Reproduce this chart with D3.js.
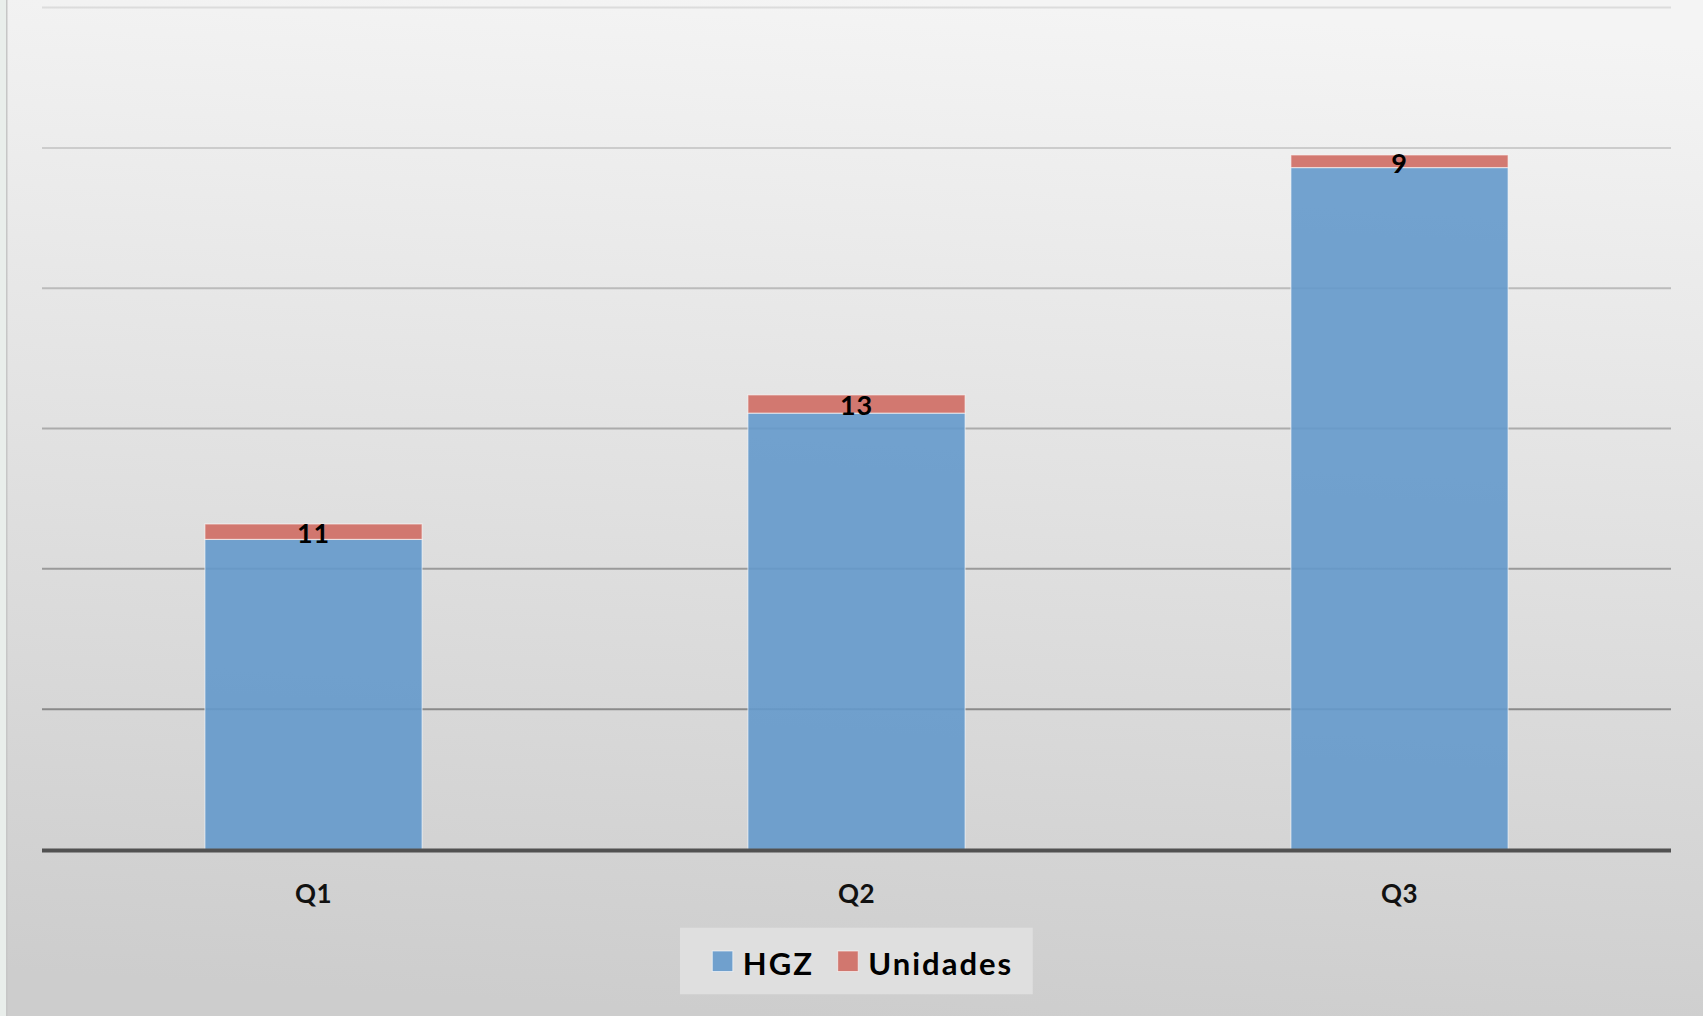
<!DOCTYPE html>
<html>
<head>
<meta charset="utf-8">
<script src="https://cdn.jsdelivr.net/npm/d3@7"></script>
<style>
  html, body { margin: 0; padding: 0; overflow: hidden; }
  body { font-family: Lato, "Open Sans", sans-serif; }
</style>
</head>
<body>
<script>
// chart data
var categories = ["Q1", "Q2", "Q3"];
var seriesNames = ["HGZ", "Unidades"];
var hgz = [221, 311, 486];
var unidades = [11, 13, 9];
var yTicks = [0, 100, 200, 300, 400, 500, 600];

var w = 1703;
var h = 1016;
var margin = {left: 42, right: 32, top: 7.6, bottom: 166.5};

var svg = d3.select("body")
  .append("svg")
  .attr("width", w)
  .attr("height", h);

// background gradient
var defs = svg.append("defs");
var grad = defs.append("linearGradient")
  .attr("id", "bg")
  .attr("x1", "0.55").attr("y1", "0")
  .attr("x2", "0.45").attr("y2", "1");
grad.append("stop").attr("offset", "0").attr("stop-color", "#f4f4f4");
grad.append("stop").attr("offset", "1").attr("stop-color", "#cdcdcd");

svg.append("rect")
  .attr("width", w).attr("height", h)
  .attr("fill", "url(#bg)");

// left edge strip
svg.append("rect")
  .attr("x", 0).attr("y", 0)
  .attr("width", 6).attr("height", h)
  .attr("fill", "#e9eeeb");
svg.append("rect")
  .attr("x", 6).attr("y", 0)
  .attr("width", 1.5).attr("height", h)
  .attr("fill", "#c6c6c6");

var x = d3.scaleBand()
  .domain(categories)
  .range([margin.left, w - margin.right])
  .paddingInner(0.6)
  .paddingOuter(0.3);

var y = d3.scaleLinear()
  .domain([0, 600])
  .range([h - margin.bottom, margin.top]);

var gridColor = d3.interpolateRgb("#dcdcdc", "#8a8a8a");

// gridlines
svg.append("g")
  .selectAll("line")
  .data(yTicks.filter(function (d) { return d > 0; }))
  .enter()
  .append("line")
  .attr("x1", margin.left)
  .attr("x2", w - margin.right)
  .attr("y1", function (d) { return y(d); })
  .attr("y2", function (d) { return y(d); })
  .style("stroke", function (d) { return gridColor((600 - d) / 500); })
  .style("stroke-width", 2);

// stacked data
var rows = categories.map(function (c, i) {
  return {cat: c, HGZ: hgz[i], Unidades: unidades[i]};
});
var stack = d3.stack().keys(seriesNames)(rows);
var colors = {HGZ: "#6499cb", Unidades: "#cf6b63"};

var layers = svg.append("g")
  .selectAll("g")
  .data(stack)
  .enter()
  .append("g")
  .style("fill", function (d) { return colors[d.key]; });

layers.selectAll("rect")
  .data(function (d) { return d; })
  .enter()
  .append("rect")
  .attr("x", function (d) { return x(d.data.cat); })
  .attr("width", x.bandwidth())
  .attr("y", function (d) { return y(d[1]); })
  .attr("height", function (d) { return y(d[0]) - y(d[1]); })
  .style("fill-opacity", 0.9)
  .style("stroke", "rgba(255,255,255,0.55)")
  .style("stroke-width", 1.2);

// baseline
svg.append("line")
  .attr("x1", margin.left)
  .attr("x2", w - margin.right)
  .attr("y1", y(0) + 1)
  .attr("y2", y(0) + 1)
  .style("stroke", "#515151")
  .style("stroke-width", 4);

// data labels for Unidades
var unidadesLayer = stack[1];
svg.append("g")
  .selectAll("text")
  .data(unidadesLayer)
  .enter()
  .append("text")
  .attr("x", function (d) { return x(d.data.cat) + x.bandwidth() / 2; })
  .attr("y", function (d) { return (y(d[0]) + y(d[1])) / 2 + 11.5; })
  .attr("text-anchor", "middle")
  .style("font-size", "27px")
  .style("font-weight", "bold")
  .style("letter-spacing", "0.8px")
  .style("fill", "#000")
  .text(function (d) { return d.data.Unidades; });

// x axis labels
var xAxis = d3.axisBottom(x).tickSize(0).tickPadding(0);
var gx = svg.append("g")
  .attr("transform", "translate(0," + y(0) + ")")
  .call(xAxis);
gx.select(".domain").remove();
gx.selectAll("text")
  .attr("dy", 0)
  .attr("y", 53)
  .style("font-family", "Lato, 'Open Sans', sans-serif")
  .style("font-size", "26px")
  .style("font-weight", "bold")
  .style("letter-spacing", "0.5px")
  .style("fill", "#111");

// legend
var legend = svg.append("g");
legend.append("rect")
  .attr("x", 680).attr("y", 927.7)
  .attr("width", 352.7).attr("height", 66.6)
  .style("fill", "#e2e2e2")
  .style("fill-opacity", 0.85);

var legendX = [712.3, 837.7];
var items = legend.selectAll("g.item")
  .data(seriesNames)
  .enter()
  .append("g")
  .attr("class", "item")
  .attr("transform", function (d, i) { return "translate(" + legendX[i] + ",951)"; });

items.append("rect")
  .attr("width", 20.5).attr("height", 20.5)
  .style("fill", function (d) { return colors[d]; })
  .style("fill-opacity", 0.9)
  .style("stroke", "rgba(255,255,255,0.6)")
  .style("stroke-width", 1);

items.append("text")
  .attr("x", 30.5)
  .attr("y", 24)
  .style("font-size", "31px")
  .style("font-weight", "bold")
  .style("letter-spacing", "2px")
  .style("fill", "#000")
  .text(function (d) { return d; });
</script>
</body>
</html>
